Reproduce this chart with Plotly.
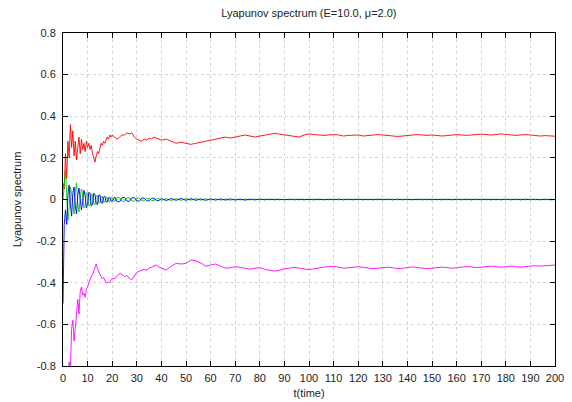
import plotly.graph_objects as go

# time samples
t = [0, 0.5, 1, 1.5, 2, 2.5, 3, 3.5, 4, 4.5,
     5, 5.5, 6, 6.5, 7, 7.5, 8, 8.5, 9, 9.5,
     10, 10.5, 11, 11.5, 12, 12.5, 13, 13.5, 14, 14.5,
     15, 15.5, 16, 16.5, 17, 17.5, 18, 18.5, 19, 19.5,
     20,
     21, 22, 23, 24, 25, 26, 27, 28, 29, 30,
     31, 32, 33, 34, 35, 36, 37, 38, 39, 40,
     42, 44, 46, 48, 50, 52, 54, 56, 58, 60,
     62, 64, 66, 68, 70, 72, 74, 76, 78, 80,
     82, 84, 86, 88, 90, 92, 94, 96, 98, 100,
     102, 104, 106, 108, 110, 112, 114, 116, 118, 120,
     122, 124, 126, 128, 130, 132, 134, 136, 138, 140,
     142, 144, 146, 148, 150, 152, 154, 156, 158, 160,
     162, 164, 166, 168, 170, 172, 174, 176, 178, 180,
     182, 184, 186, 188, 190, 192, 194, 196, 198, 200]

lyap1 = [0.08, 0.05, 0.22, 0.10, 0.28, 0.20, 0.36, 0.25, 0.33, 0.21,
         0.28, 0.19, 0.25, 0.30, 0.22, 0.29, 0.24, 0.27, 0.23, 0.28,
         0.25, 0.27, 0.24, 0.26, 0.22, 0.20, 0.18, 0.21, 0.23, 0.22,
         0.25, 0.27, 0.26, 0.28, 0.27, 0.29, 0.30, 0.29, 0.31, 0.30,
         0.31,
         0.30, 0.29, 0.30, 0.31, 0.31, 0.32, 0.315, 0.32, 0.30, 0.29,
         0.285, 0.28, 0.29, 0.285, 0.295, 0.29, 0.30, 0.295, 0.29, 0.285,
         0.29, 0.28, 0.27, 0.275, 0.27, 0.265, 0.27, 0.275, 0.28, 0.285,
         0.29, 0.295, 0.30, 0.295, 0.30, 0.305, 0.31, 0.305, 0.30, 0.305,
         0.31, 0.315, 0.318, 0.314, 0.31, 0.308, 0.305, 0.30, 0.31, 0.315,
         0.312, 0.31, 0.308, 0.31, 0.312, 0.31, 0.305, 0.308, 0.31, 0.31,
         0.305, 0.308, 0.31, 0.312, 0.31, 0.308, 0.305, 0.303, 0.305, 0.307,
         0.31, 0.312, 0.31, 0.308, 0.31, 0.307, 0.305, 0.307, 0.31, 0.312,
         0.31, 0.308, 0.31, 0.312, 0.314, 0.312, 0.31, 0.312, 0.315, 0.313,
         0.31, 0.308, 0.31, 0.312, 0.31, 0.308, 0.305, 0.307, 0.305, 0.304]

lyap2 = [0.0, 0.08, 0.14, 0.02, -0.10, -0.04, 0.06, 0.03, -0.03, -0.07,
         0.04, 0.08, -0.02, -0.06, 0.01, 0.05, 0.02, -0.04, -0.03, 0.035,
         0.03, -0.03, -0.03, 0.025, 0.025, -0.02, -0.025, 0.018, 0.02, -0.015,
         -0.018, 0.014, 0.015, -0.012, -0.013, 0.01, 0.011, -0.008, -0.009, 0.007,
         0.008,
         -0.011, 0.009, 0.010, -0.008, -0.009, 0.008, 0.008, -0.007, -0.008, 0.006,
         0.007, -0.006, -0.006, 0.005, 0.005, -0.005, -0.005, 0.004, 0.004, -0.004,
         0.004, -0.005, 0.004, -0.004, 0.004, -0.003, 0.004, -0.003, 0.003, -0.003,
         0.003, -0.003, 0.002, -0.003, 0.002, -0.002, 0.002, -0.002, 0.002, -0.002,
         0.0015, -0.0015, 0.0015, -0.0015, 0.0015, -0.0015, 0.0015, -0.0015, 0.0015, -0.0015,
         0.0015, -0.0015, 0.0015, -0.0015, 0.0015, -0.0015, 0.0015, -0.0015, 0.0015, -0.0015,
         0.0015, -0.0015, 0.0015, -0.0015, 0.0015, -0.0015, 0.0015, -0.0015, 0.0015, -0.0015,
         0.0015, -0.0015, 0.0015, -0.0015, 0.0015, -0.0015, 0.0015, -0.0015, 0.0015, -0.0015,
         0.0015, -0.0015, 0.0015, -0.0015, 0.0015, -0.0015, 0.0015, -0.0015, 0.0015, -0.0015,
         0.0015, -0.0015, 0.0015, -0.0015, 0.0015, -0.0015, 0.0015, -0.0015, 0.0015, 0.0]

lyap3 = [-0.50, -0.12, -0.05, -0.12, 0.02, 0.07, -0.02, -0.08, 0.03, 0.06,
         -0.03, -0.07, 0.02, 0.055, 0.0, -0.05, -0.01, 0.045, 0.02, -0.04,
         -0.02, 0.035, 0.03, -0.03, -0.025, 0.03, 0.025, -0.02, -0.025, 0.02,
         0.022, -0.015, -0.018, 0.012, 0.016, -0.01, -0.013, 0.008, 0.011, -0.007,
         -0.009,
         0.012, -0.010, -0.011, 0.009, 0.010, -0.008, -0.009, 0.008, 0.009, -0.007,
         -0.008, 0.007, 0.007, -0.006, -0.006, 0.006, 0.006, -0.005, -0.005, 0.005,
         -0.005, 0.005, -0.004, 0.005, -0.004, 0.004, -0.004, 0.003, -0.004, 0.003,
         -0.003, 0.003, -0.003, 0.003, -0.003, 0.002, -0.003, 0.002, -0.002, 0.002,
         -0.0015, 0.0015, -0.0015, 0.0015, -0.0015, 0.0015, -0.0015, 0.0015, -0.0015, 0.0015,
         -0.0015, 0.0015, -0.0015, 0.0015, -0.0015, 0.0015, -0.0015, 0.0015, -0.0015, 0.0015,
         -0.0015, 0.0015, -0.0015, 0.0015, -0.0015, 0.0015, -0.0015, 0.0015, -0.0015, 0.0015,
         -0.0015, 0.0015, -0.0015, 0.0015, -0.0015, 0.0015, -0.0015, 0.0015, -0.0015, 0.0015,
         -0.0015, 0.0015, -0.0015, 0.0015, -0.0015, 0.0015, -0.0015, 0.0015, -0.0015, 0.0015,
         -0.0015, 0.0015, -0.0015, 0.0015, -0.0015, 0.0015, -0.0015, 0.0015, -0.0015, 0.0]

lyap4 = [-2.0, -1.6, -1.3, -1.0, -0.9, -0.78, -0.82, -0.62, -0.58, -0.68,
         -0.62, -0.52, -0.48, -0.55, -0.44, -0.42, -0.46, -0.45, -0.47, -0.43,
         -0.42, -0.40, -0.38, -0.37, -0.36, -0.34, -0.32, -0.31, -0.33, -0.35,
         -0.36, -0.37, -0.38, -0.375, -0.39, -0.40, -0.40, -0.395, -0.40, -0.385,
         -0.38,
         -0.38, -0.37, -0.355, -0.36, -0.37, -0.365, -0.38, -0.385, -0.37, -0.35,
         -0.345, -0.34, -0.335, -0.34, -0.33, -0.325, -0.32, -0.315, -0.325, -0.33,
         -0.339, -0.32, -0.307, -0.31, -0.307, -0.29, -0.295, -0.305, -0.32, -0.315,
         -0.31, -0.32, -0.33, -0.328, -0.323, -0.326, -0.33, -0.335, -0.33, -0.328,
         -0.335, -0.34, -0.344, -0.34, -0.333, -0.33, -0.326, -0.33, -0.335, -0.337,
         -0.333, -0.328, -0.325, -0.322, -0.321, -0.325, -0.33, -0.328, -0.325, -0.323,
         -0.326, -0.33, -0.332, -0.33, -0.327, -0.325, -0.328, -0.332, -0.33, -0.326,
         -0.324, -0.326, -0.33, -0.333, -0.33, -0.327, -0.325, -0.327, -0.33, -0.328,
         -0.325, -0.322, -0.324, -0.327, -0.325, -0.322, -0.32, -0.322, -0.325, -0.323,
         -0.32, -0.322, -0.325, -0.322, -0.32, -0.318, -0.32, -0.318, -0.316, -0.315]

x_ticks = [0, 10, 20, 30, 40, 50, 60, 70, 80, 90, 100,
           110, 120, 130, 140, 150, 160, 170, 180, 190, 200]
y_ticks = [-0.8, -0.6, -0.4, -0.2, 0, 0.2, 0.4, 0.6, 0.8]
y_tick_labels = ["-0.8", "-0.6", "-0.4", "-0.2", "0", "0.2", "0.4", "0.6", "0.8"]

series = [(lyap1, "#ff0000"), (lyap2, "#00cc00"), (lyap3, "#0000ff"), (lyap4, "#ff00ff")]

fig = go.Figure()
for vals, col in series:
    fig.add_trace(go.Scatter(x=t, y=vals, mode="lines",
                             line=dict(color=col, width=0.9),
                             showlegend=False, hoverinfo="skip"))

font = dict(family="Liberation Sans, Arial, sans-serif", size=11, color="#222222")

axis_common = dict(showline=True, linecolor="black", linewidth=1, mirror="ticks",
                   ticks="inside", ticklen=5, tickcolor="black", tickwidth=1,
                   showgrid=True, gridcolor="#d4d4d4", griddash="dot", gridwidth=1,
                   zeroline=False, tickfont=font, automargin=False)

fig.update_layout(
    width=572, height=402,
    margin=dict(l=63, r=17, t=33, b=36, autoexpand=False),
    paper_bgcolor="white", plot_bgcolor="white",
    font=font,
    title=dict(text="Lyapunov spectrum (E=10.0, \u03bc=2.0)", x=0.54, xanchor="center",
               y=1 - 13 / 402, yref="container", yanchor="middle", font=font),
    xaxis=dict(range=[0, 200], tickvals=x_ticks, ticklabelstandoff=2,
               title=dict(text="t(time)", font=font, standoff=6), **axis_common),
    yaxis=dict(range=[-0.8, 0.8], tickvals=y_ticks, ticktext=y_tick_labels,
               ticklabelstandoff=4,
               title=dict(text="Lyapunov spectrum", font=font, standoff=12), **axis_common),
)

fig.write_html("out.html", config={"displayModeBar": False},
               post_script="document.body.style.margin='0';document.body.style.padding='0';")
